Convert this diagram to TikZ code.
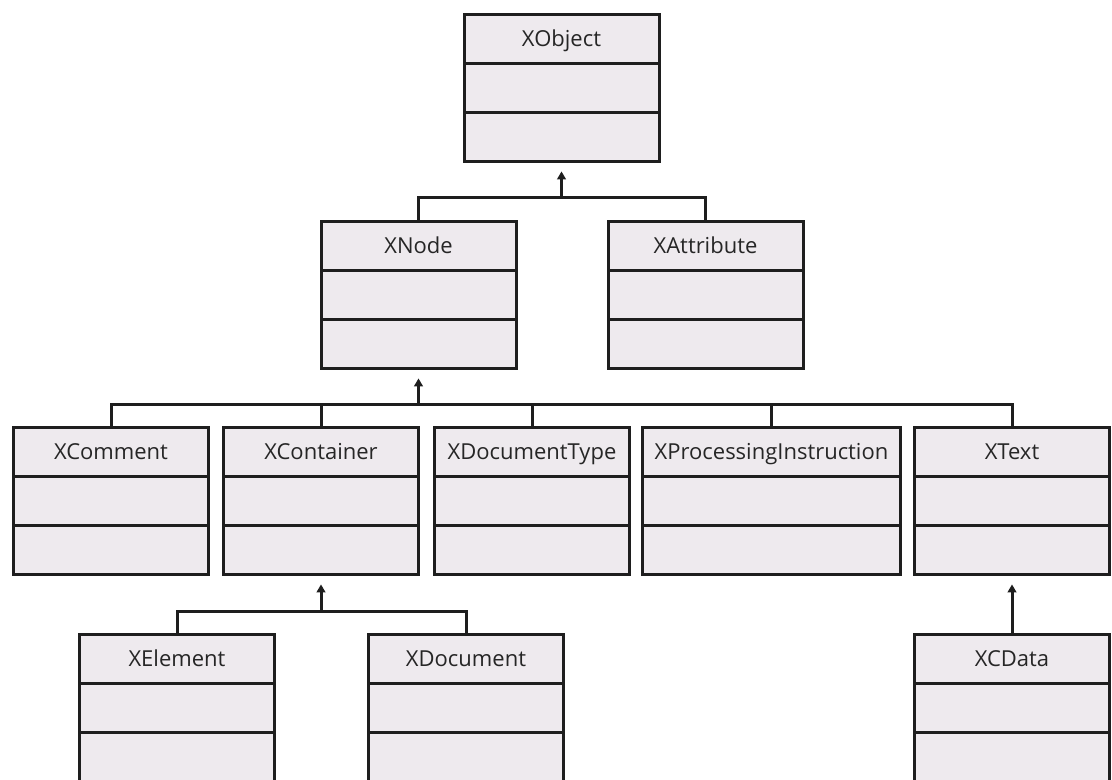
\documentclass[tikz,border=0pt]{standalone}
\usepackage{fontspec}
\setmainfont{Open Sans}
\usetikzlibrary{shapes.multipart,arrows.meta,calc}
\definecolor{classfill}{HTML}{EEEAEE}
\definecolor{classline}{HTML}{1E1E1E}
\definecolor{classtext}{HTML}{262626}
\begin{document}
\begin{tikzpicture}[x=0.75pt,y=-0.75pt,line join=miter,
	classbox/.style={draw=classline,fill=classfill,line width=2.25pt,anchor=north,
		rectangle split,rectangle split parts=3,
		rectangle split empty part height=34.6pt,rectangle split empty part depth=0pt,
		rectangle split empty part width=0pt,inner xsep=0pt,inner ysep=0pt,
		minimum width=146.25pt,text=classtext,font=\fontsize{16.5}{18}\selectfont,
		execute at begin node={\rule[-11.5pt]{0pt}{34.6pt}}},
	widebox/.style={minimum width=193.5pt},
	link/.style={draw=classline,line width=2.25pt},
	inherit/.style={link,-{Triangle[width=6.5pt,length=6pt]}}]
	\useasboundingbox (0,0) rectangle (1112,780);
	% classes
	\node[classbox] (XObject) at (561.5,13) {XObject\nodepart{two}\nodepart{three}};
	\node[classbox] (XNode) at (418.5,220) {XNode\nodepart{two}\nodepart{three}};
	\node[classbox] (XAttribute) at (705.5,220) {XAttribute\nodepart{two}\nodepart{three}};
	\node[classbox] (XComment) at (111,426) {XComment\nodepart{two}\nodepart{three}};
	\node[classbox] (XContainer) at (321,426) {XContainer\nodepart{two}\nodepart{three}};
	\node[classbox] (XDocumentType) at (532,426) {XDocumentType\nodepart{two}\nodepart{three}};
	\node[classbox,widebox] (XProcessingInstruction) at (771.5,426) {XProcessingInstruction\nodepart{two}\nodepart{three}};
	\node[classbox] (XText) at (1012,426) {XText\nodepart{two}\nodepart{three}};
	\node[classbox] (XElement) at (177,633) {XElement\nodepart{two}\nodepart{three}};
	\node[classbox] (XDocument) at (466,633) {XDocument\nodepart{two}\nodepart{three}};
	\node[classbox] (XCData) at (1012,633) {XCData\nodepart{two}\nodepart{three}};
	% inheritance
	\coordinate (objbar) at ($(XObject.south)+(0,34)$);
	\draw[link] (XNode.north) -- (XNode.north |- objbar) -- (XAttribute.north |- objbar) -- (XAttribute.north);
	\draw[inherit] (objbar) -- ($(XObject.south)+(0,8)$);
	\coordinate (nodebar) at ($(XNode.south)+(0,34)$);
	\draw[link] (XComment.north) -- (XComment.north |- nodebar) -- (XText.north |- nodebar) -- (XText.north);
	\foreach \n in {XContainer,XDocumentType,XProcessingInstruction}
		\draw[link] (\n.north) -- (\n.north |- nodebar);
	\draw[inherit] (nodebar) -- ($(XNode.south)+(0,8)$);
	\coordinate (contbar) at ($(XContainer.south)+(0,35)$);
	\draw[link] (XElement.north) -- (XElement.north |- contbar) -- (XDocument.north |- contbar) -- (XDocument.north);
	\draw[inherit] (contbar) -- ($(XContainer.south)+(0,8)$);
	\draw[inherit] (XCData.north) -- ($(XText.south)+(0,8)$);
\end{tikzpicture}
\end{document}
